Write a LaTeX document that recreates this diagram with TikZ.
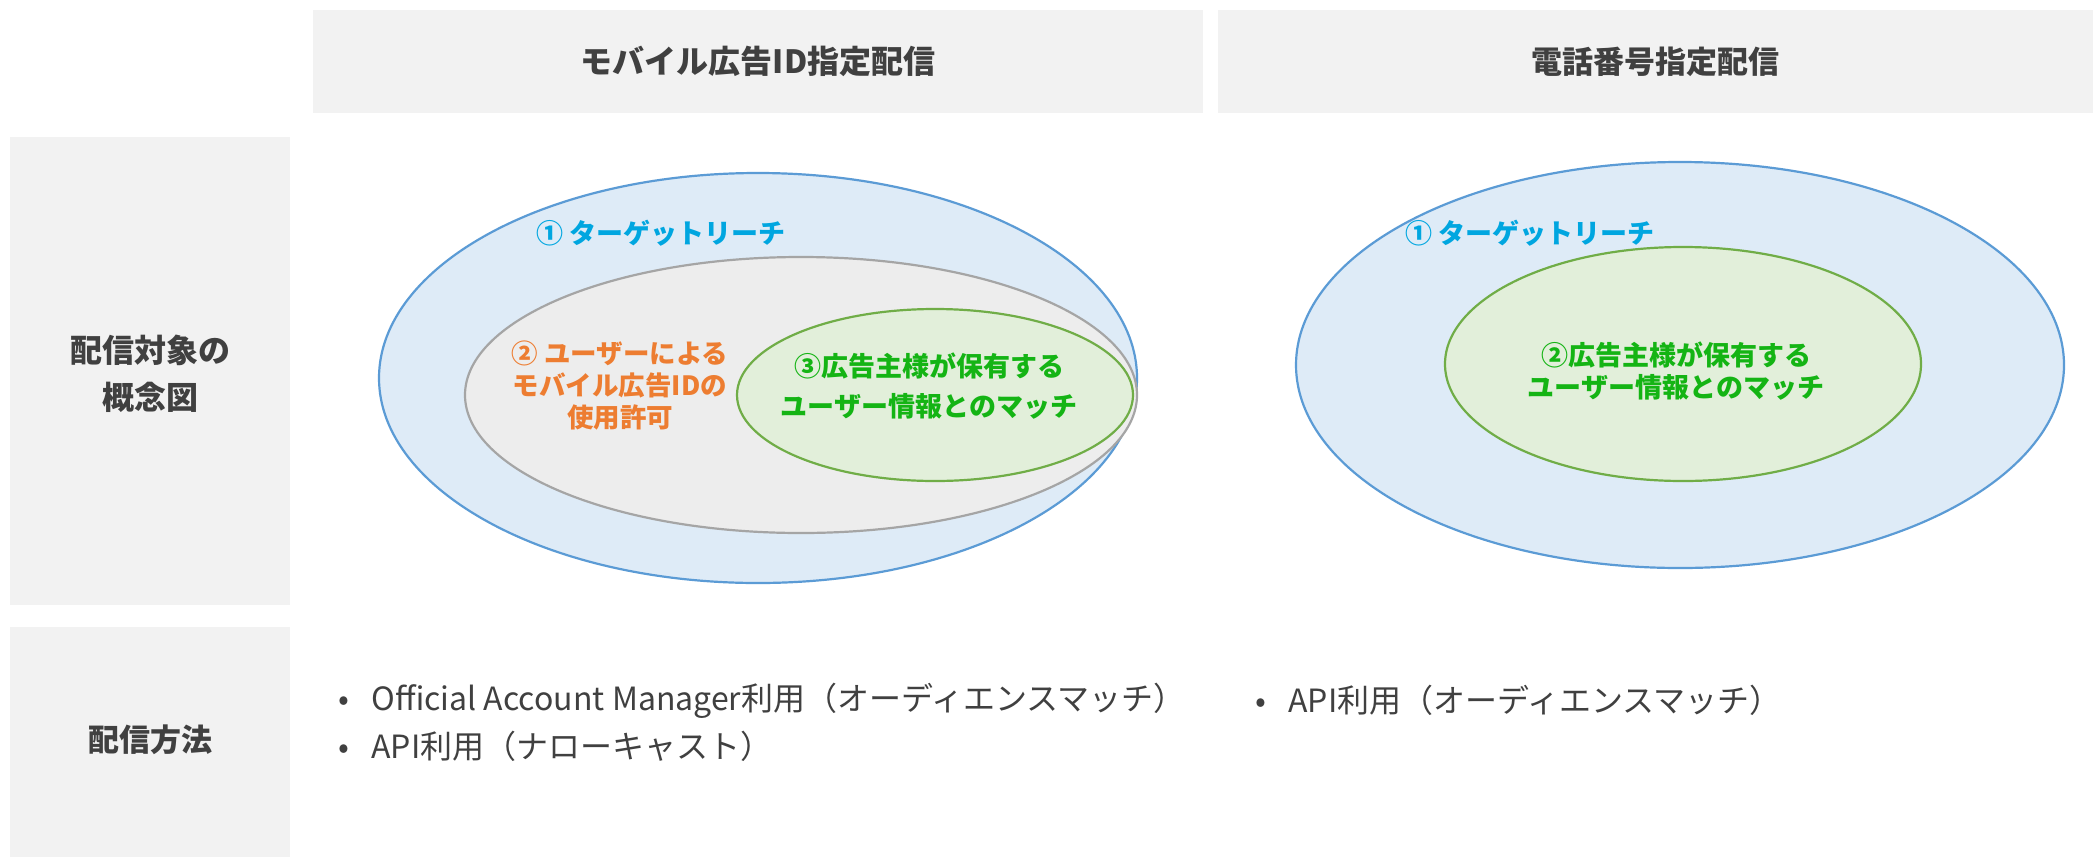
\documentclass[tikz,border=0pt]{standalone}
\usepackage{fontspec}
\setmainfont{Noto Sans CJK JP}
\usetikzlibrary{shapes.geometric}
\definecolor{boxgray}{RGB}{242,242,242}
\definecolor{txtdark}{RGB}{64,64,64}
\definecolor{bluefill}{RGB}{222,235,247}
\definecolor{bluedraw}{RGB}{91,155,213}
\definecolor{grayfill}{RGB}{237,237,237}
\definecolor{graydraw}{RGB}{165,165,165}
\definecolor{greenfill}{RGB}{226,239,218}
\definecolor{greendraw}{RGB}{112,173,71}
\definecolor{cyantxt}{RGB}{0,166,224}
\definecolor{orangetxt}{RGB}{237,125,49}
\definecolor{greentxt}{RGB}{20,180,20}
\begin{document}
\begin{tikzpicture}[x=1pt,y=-1pt,
  hdrbox/.style={fill=boxgray,draw=none,inner sep=0,anchor=north west},
  hdrtxt/.style={font=\fontsize{32}{38}\selectfont\bfseries,text=txtdark,align=center},
  ell/.style={ellipse,inner sep=0,line width=2.2pt},
  blueell/.style={ell,fill=bluefill,draw=bluedraw},
  grayell/.style={ell,fill=grayfill,draw=graydraw},
  greenell/.style={ell,fill=greenfill,draw=greendraw},
  lbl/.style={font=\fontsize{27}{40}\selectfont\bfseries,align=center},
  bullet/.style={font=\fontsize{32}{48}\selectfont,text=txtdark,anchor=west,align=left}]
\useasboundingbox (0,0) rectangle (2093,857);
% header boxes
\node[hdrbox,minimum width=890pt,minimum height=103pt] (h1) at (313,10) {};
\node[hdrbox,minimum width=875pt,minimum height=103pt] (h2) at (1218,10) {};
\node[hdrbox,minimum width=280pt,minimum height=468pt] (r1) at (10,137) {};
\node[hdrbox,minimum width=280pt,minimum height=230pt] (r2) at (10,627) {};
\node[hdrtxt] (h1t) at (h1.center) {モバイル広告ID指定配信};
\node[hdrtxt,font=\fontsize{31}{38}\selectfont\bfseries] (h2t) at (h2.center) {電話番号指定配信};
\node[hdrtxt,font=\fontsize{32}{47}\selectfont\bfseries] (r1t) at (150,374) {配信対象の\\概念図};
\node[hdrtxt,font=\fontsize{31}{38}\selectfont\bfseries] (r2t) at (150,740) {配信方法};
% left diagram
\node[blueell,minimum width=758pt,minimum height=410pt] (b1) at (758,378) {};
\node[grayell,minimum width=672pt,minimum height=276pt] (g1) at (801,395) {};
\node[greenell,minimum width=396pt,minimum height=172pt] (e1) at (935,395) {};
\node[lbl,text=cyantxt] (t1) at (661,233) {① ターゲットリーチ};
\node[lbl,text=orangetxt,font=\fontsize{26.5}{32}\selectfont\bfseries] (t2) at (620,386) {② ユーザーによる\\モバイル広告IDの\\使用許可};
\node[lbl,text=greentxt] (t3) at (929,386) {③広告主様が保有する\\ユーザー情報とのマッチ};
% right diagram
\node[blueell,minimum width=768pt,minimum height=406pt] (b2) at (1680,365) {};
\node[greenell,minimum width=476pt,minimum height=234pt] (e2) at (1683,364) {};
\node[lbl,text=cyantxt] (t4) at (1530,233) {① ターゲットリーチ};
\node[lbl,text=greentxt,font=\fontsize{27}{32}\selectfont\bfseries] (t5) at (1676,371) {②広告主様が保有する\\ユーザー情報とのマッチ};
% methods
\node[bullet] (m1) at (335,722) {•\hspace{22pt}Official Account Manager利用（オーディエンスマッチ）\\•\hspace{22pt}API利用（ナローキャスト）};
\node[bullet] (m2) at (1252,700) {•\hspace{22pt}API利用（オーディエンスマッチ）};
\end{tikzpicture}
\end{document}
